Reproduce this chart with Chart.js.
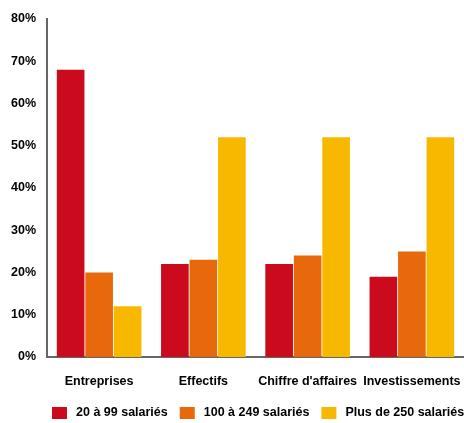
<!DOCTYPE html>
<html>
<head>
<meta charset="utf-8">
<script src="https://cdn.jsdelivr.net/npm/chart.js@4/dist/chart.umd.min.js"></script>
<style>
  html, body { margin: 0; padding: 0; background: #fff; }
  #wrap { width: 464px; height: 423px; position: relative; }
</style>
</head>
<body>
<div id="wrap"><canvas id="chart" width="464" height="423"></canvas></div>
<script>
const categories = ['Entreprises', 'Effectifs', "Chiffre d'affaires", 'Investissements'];
const small = [68, 22, 22, 19];     // 20 à 99 salariés
const medium = [20, 23, 24, 25];    // 100 à 249 salariés
const large = [12, 52, 52, 52];     // Plus de 250 salariés
const seriesNames = ['20 à 99 salariés', '100 à 249 salariés', 'Plus de 250 salariés'];
const colors = ['#CC0A1E', '#E8690C', '#F9B800'];

const font = { family: 'Liberation Sans, Arial, sans-serif', size: 12.5, weight: 'bold' };

Chart.defaults.color = '#000';

// legend drawn by hand: box, text, box, text ... starting left of centre like the original
const bottomLegend = {
    id: 'bottomLegend',
    afterDraw(chart) {
        const ctx = chart.ctx;
        ctx.save();
        ctx.font = `bold ${font.size}px ${font.family}`;
        ctx.textBaseline = 'middle';
        ctx.textAlign = 'left';
        let x = 52;
        const y = 413;
        chart.data.datasets.forEach(ds => {
            ctx.fillStyle = ds.backgroundColor;
            ctx.fillRect(x, y - 6, 15, 12);
            x += 15 + 9;
            ctx.fillStyle = '#000';
            ctx.fillText(ds.label, x, y);
            x += ctx.measureText(ds.label).width + 12;
        });
        ctx.restore();
    }
};

new Chart(document.getElementById('chart').getContext('2d'), {
    type: 'bar',
    data: {
        labels: categories,
        datasets: [small, medium, large].map((d, i) => ({
            label: seriesNames[i],
            data: d,
            backgroundColor: colors[i],
            borderWidth: 0,
            barPercentage: 0.97,
            categoryPercentage: 0.82
        }))
    },
    options: {
        responsive: false,
        animation: false,
        layout: { padding: { top: 19, right: 0, left: 0, bottom: 26 } },
        plugins: {
            tooltip: { enabled: false },
            legend: { display: false }
        },
        scales: {
            x: {
                grid: { display: false },
                border: { display: true, color: '#666', width: 2 },
                ticks: { font: font, padding: 9, maxRotation: 0, autoSkip: false },
                afterFit: s => { s.height = 40; s.paddingLeft = 0; s.paddingRight = 0; }
            },
            y: {
                min: 0,
                max: 80,
                grid: { display: false },
                border: { display: true, color: '#666', width: 2 },
                ticks: {
                    stepSize: 10,
                    font: font,
                    padding: 3,
                    callback: v => v + '%'
                },
                afterFit: s => { s.width = 47; }
            }
        }
    },
    plugins: [bottomLegend]
});
</script>
</body>
</html>
